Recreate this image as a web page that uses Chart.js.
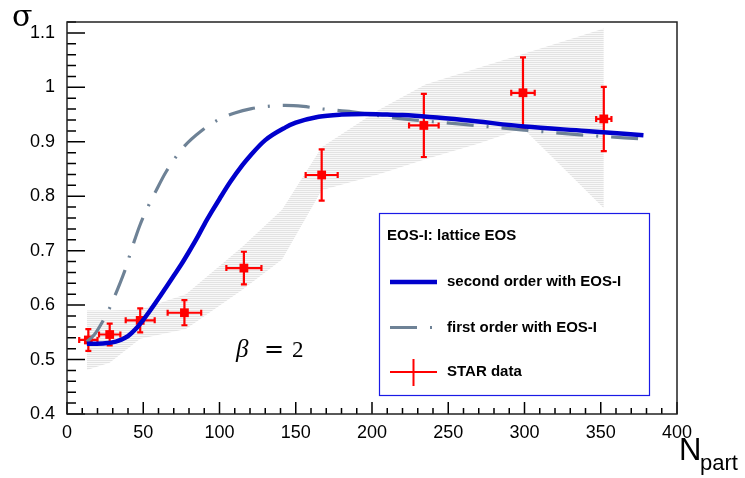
<!DOCTYPE html>
<html>
<head>
<meta charset="utf-8">
<script src="https://cdn.jsdelivr.net/npm/chart.js@4.4.1/dist/chart.umd.min.js"></script>
<style>
  html, body { margin: 0; padding: 0; background: #fff; }
  #wrap { width: 745px; height: 478px; }
</style>
</head>
<body>
<div id="wrap"><canvas id="sigma-chart" width="745" height="478"></canvas></div>
<script>
// axis ticks
const xTicks = [0, 50, 100, 150, 200, 250, 300, 350, 400];
const yTicks = [0.4, 0.5, 0.6, 0.7, 0.8, 0.9, 1, 1.1];

// second order transition, EOS-I
const secondX = [13, 25, 32, 36, 40, 45, 50, 55, 60, 65, 70, 75, 80, 85, 90, 95, 100, 107, 115, 120, 130, 143, 150, 165, 180, 195, 210, 220, 260, 300, 340, 378];
const secondY = [0.529, 0.530, 0.533, 0.537, 0.543, 0.556, 0.573, 0.592, 0.612, 0.633, 0.654, 0.675, 0.698, 0.722, 0.748, 0.772, 0.795, 0.826, 0.857, 0.874, 0.903, 0.926, 0.935, 0.946, 0.950, 0.951, 0.950, 0.949, 0.940, 0.928, 0.920, 0.912];

// first order transition, EOS-I
const firstX = [13, 18, 23, 28, 33, 38, 43, 48, 53, 58, 65, 77, 88, 99, 110, 121, 135, 143, 155, 165, 187, 217, 260, 298, 340, 378];
const firstY = [0.533, 0.546, 0.568, 0.595, 0.628, 0.664, 0.708, 0.748, 0.780, 0.808, 0.845, 0.892, 0.920, 0.940, 0.953, 0.961, 0.966, 0.967, 0.965, 0.961, 0.955, 0.943, 0.932, 0.922, 0.912, 0.905];

// STAR measurements
const starX = [14, 28, 48, 77, 116, 167, 234, 299, 352];
const starY = [0.536, 0.546, 0.572, 0.586, 0.668, 0.839, 0.930, 0.990, 0.942];
const starErrX = [6, 7, 9.5, 11, 11.5, 10.5, 9.7, 7.7, 5];
const starErrY = [0.02, 0.02, 0.022, 0.023, 0.03, 0.047, 0.058, 0.065, 0.059];

// uncertainty band
const bandX = [13, 28, 48, 78, 115, 141, 167, 204, 235, 270, 299, 334, 352];
const bandHigh = [0.590, 0.590, 0.592, 0.620, 0.707, 0.775, 0.890, 0.958, 1.005, 1.036, 1.061, 1.092, 1.108];
const bandLow = [0.481, 0.494, 0.538, 0.556, 0.628, 0.684, 0.811, 0.840, 0.868, 0.897, 0.925, 0.828, 0.778];

const pts = (xs, ys) => xs.map((x, i) => ({ x: x, y: ys[i] }));

function hatchPattern() {
    const c = document.createElement('canvas');
    c.width = 4;
    c.height = 2;
    const g = c.getContext('2d');
    g.fillStyle = '#f8f8f8';
    g.fillRect(0, 0, 4, 2);
    g.fillStyle = '#e3e3e3';
    g.fillRect(0, 0, 4, 1);
    return g.createPattern(c, 'repeat');
}

// error bars under the STAR markers
const errorBars = {
    id: 'errorBars',
    beforeDatasetDraw(chart, args) {
        const ds = chart.data.datasets[args.index];
        if (!ds.errX) return;
        const ctx = chart.ctx;
        const xs = chart.scales.x, ys = chart.scales.y;
        const cap = 3;
        ctx.save();
        ctx.strokeStyle = ds.backgroundColor;
        ctx.lineWidth = 2.2;
        ds.data.forEach((p, i) => {
            const px = xs.getPixelForValue(p.x);
            const py = ys.getPixelForValue(p.y);
            const x0 = xs.getPixelForValue(p.x - ds.errX[i]);
            const x1 = xs.getPixelForValue(p.x + ds.errX[i]);
            const y0 = ys.getPixelForValue(p.y - ds.errY[i]);
            const y1 = ys.getPixelForValue(p.y + ds.errY[i]);
            ctx.beginPath();
            ctx.moveTo(x0, py); ctx.lineTo(x1, py);
            ctx.moveTo(px, y0); ctx.lineTo(px, y1);
            ctx.moveTo(x0, py - cap); ctx.lineTo(x0, py + cap);
            ctx.moveTo(x1, py - cap); ctx.lineTo(x1, py + cap);
            ctx.moveTo(px - cap, y0); ctx.lineTo(px + cap, y0);
            ctx.moveTo(px - cap, y1); ctx.lineTo(px + cap, y1);
            ctx.stroke();
        });
        ctx.restore();
    }
};

// frame and inward tick marks
const frame = {
    id: 'frame',
    afterDatasetsDraw(chart) {
        const ctx = chart.ctx;
        const a = chart.chartArea;
        const xs = chart.scales.x, ys = chart.scales.y;
        ctx.save();
        ctx.strokeStyle = '#000';
        ctx.lineWidth = 1.5;
        ctx.beginPath();
        for (let i = 0; i < xTicks.length; i++) {
            const step = i < xTicks.length - 1 ? (xTicks[i + 1] - xTicks[i]) / 5 : 0;
            for (let k = 0; k < (step ? 5 : 1); k++) {
                const px = xs.getPixelForValue(xTicks[i] + k * step);
                ctx.moveTo(px, a.bottom);
                ctx.lineTo(px, a.bottom - (k === 0 ? 12 : 6));
            }
        }
        for (let i = 0; i < yTicks.length; i++) {
            const step = (i < yTicks.length - 1 ? yTicks[i + 1] - yTicks[i] : 0.1) / 5;
            for (let k = 0; k < 5; k++) {
                const v = yTicks[i] + k * step;
                if (v > ys.max + 1e-9) break;
                const py = ys.getPixelForValue(v);
                ctx.moveTo(a.left, py);
                ctx.lineTo(a.left + (k === 0 ? 18 : 9), py);
            }
        }
        ctx.stroke();
        ctx.strokeStyle = '#222';
        ctx.strokeRect(a.left, a.top, a.right - a.left, a.bottom - a.top);
        ctx.restore();
    }
};

// legend box, axis titles and annotation
const annotations = {
    id: 'annotations',
    afterDraw(chart) {
        const ctx = chart.ctx;
        const ds = chart.data.datasets;
        ctx.save();

        const bx = 379.5, by = 213.5, bw = 270, bh = 182;
        ctx.fillStyle = '#fff';
        ctx.fillRect(bx, by, bw, bh);
        ctx.strokeStyle = '#1a1ae6';
        ctx.lineWidth = 1.2;
        ctx.strokeRect(bx, by, bw, bh);

        ctx.fillStyle = '#000';
        ctx.font = 'bold 15px "Liberation Sans", Arial, sans-serif';
        ctx.textBaseline = 'middle';
        ctx.textAlign = 'left';
        ctx.fillText('EOS-I: lattice EOS', 387, 236);

        const rows = [282, 327.5, 372];
        const lx0 = 390, lx1 = 437, tx = 447;
        [0, 1].forEach((d, r) => {
            ctx.save();
            ctx.beginPath();
            ctx.rect(lx0, rows[r] - 5, lx1 - lx0, 10);
            ctx.clip();
            ctx.strokeStyle = ds[d].borderColor;
            ctx.lineWidth = ds[d].borderWidth;
            ctx.setLineDash(ds[d].borderDash || []);
            ctx.beginPath();
            ctx.moveTo(lx0, rows[r]);
            ctx.lineTo(lx1, rows[r]);
            ctx.stroke();
            ctx.restore();
            ctx.fillText(ds[d].label, tx, rows[r]);
        });
        ctx.strokeStyle = ds[2].backgroundColor;
        ctx.lineWidth = 2;
        ctx.beginPath();
        ctx.moveTo(lx0, rows[2]);
        ctx.lineTo(lx1, rows[2]);
        ctx.moveTo((lx0 + lx1) / 2, rows[2] - 13);
        ctx.lineTo((lx0 + lx1) / 2, rows[2] + 14);
        ctx.stroke();
        ctx.fillText(ds[2].label, tx, rows[2]);

        // axis titles
        ctx.textBaseline = 'alphabetic';
        ctx.font = '30px "DejaVu Serif", serif';
        ctx.fillText('σ', 12, 26);
        ctx.font = '31px "Liberation Sans", Arial, sans-serif';
        ctx.fillText('N', 679, 460);
        ctx.font = '22px "Liberation Sans", Arial, sans-serif';
        ctx.fillText('part', 700, 470);

        // beta = 2
        ctx.font = 'italic 25px "Liberation Serif", serif';
        ctx.fillText('β', 236, 357);
        ctx.font = '24px "DejaVu Serif", serif';
        ctx.fillText('=', 264, 357);
        ctx.font = '23px "Liberation Serif", serif';
        ctx.fillText('2', 292, 357);
        ctx.restore();
    }
};

const ctx = document.getElementById('sigma-chart');
new Chart(ctx, {
    type: 'scatter',
    data: {
        datasets: [
            {
                label: 'second order with EOS-I',
                data: pts(secondX, secondY),
                showLine: true,
                borderColor: '#0000cc',
                borderWidth: 4.5,
                pointRadius: 0,
                cubicInterpolationMode: 'monotone'
            },
            {
                label: 'first order with EOS-I',
                data: pts(firstX, firstY),
                showLine: true,
                borderColor: 'rgb(110,130,150)',
                borderWidth: 3.2,
                borderDash: [27, 13, 2, 13],
                pointRadius: 0,
                cubicInterpolationMode: 'monotone'
            },
            {
                label: 'STAR data',
                data: pts(starX, starY),
                errX: starErrX,
                errY: starErrY,
                pointStyle: 'rect',
                pointRadius: 6.2,
                backgroundColor: '#ff0000',
                borderWidth: 0
            },
            {
                label: 'band high',
                data: pts(bandX, bandHigh),
                showLine: true,
                borderWidth: 0,
                pointRadius: 0,
                backgroundColor: hatchPattern(),
                fill: '+1'
            },
            {
                label: 'band low',
                data: pts(bandX, bandLow),
                showLine: true,
                borderWidth: 0,
                pointRadius: 0,
                fill: false
            }
        ]
    },
    options: {
        responsive: false,
        animation: false,
        devicePixelRatio: 1,
        layout: { padding: { left: 0, top: 22, right: 68, bottom: 0 } },
        plugins: {
            legend: { display: false },
            tooltip: { enabled: false }
        },
        scales: {
            x: {
                type: 'linear',
                min: 0,
                max: 400,
                afterBuildTicks: s => { s.ticks = xTicks.map(v => ({ value: v })); },
                afterFit: s => { s.height = 64; },
                grid: { display: false },
                border: { display: false },
                ticks: {
                    autoSkip: false,
                    maxRotation: 0,
                    padding: 0,
                    color: '#000',
                    font: { family: '"Liberation Sans", Arial, sans-serif', size: 18 },
                    callback: v => String(v)
                }
            },
            y: {
                type: 'linear',
                min: 0.4,
                max: 1.12,
                afterBuildTicks: s => { s.ticks = yTicks.map(v => ({ value: v })); },
                afterFit: s => { s.width = 67; },
                grid: { display: false },
                border: { display: false },
                ticks: {
                    autoSkip: false,
                    padding: 4,
                    color: '#000',
                    font: { family: '"Liberation Sans", Arial, sans-serif', size: 18 },
                    callback: v => String(v)
                }
            }
        }
    },
    plugins: [errorBars, frame, annotations]
});
</script>
</body>
</html>
